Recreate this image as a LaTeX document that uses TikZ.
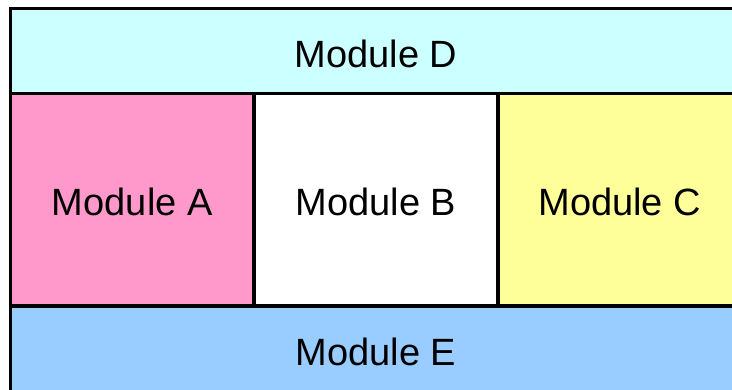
\documentclass[tikz,border=0pt]{standalone}
\usepackage{fontspec}
\setmainfont{Liberation Sans}
\begin{document}
\begin{tikzpicture}[x=1pt,y=-1pt,
  module/.style={draw=black, line width=3.5pt, rectangle, inner sep=0pt, outer sep=0pt,
    font=\fontsize{38}{40}\selectfont, text height=32pt, text depth=0pt},
  fullrow/.style={module, minimum width=731pt, minimum height=85pt},
  cell/.style={module, minimum width=243.7pt, minimum height=212.5pt}]
  \definecolor{modD}{HTML}{CCFFFF}
  \definecolor{modA}{HTML}{FF99CC}
  \definecolor{modC}{HTML}{FFFF99}
  \definecolor{modE}{HTML}{99CCFF}
  \useasboundingbox (0,0) rectangle (732,389);
  \begin{scope}
    \clip (0,0) rectangle (732,389);
    \node[fullrow, fill=modD] (D) at (376,51) {Module D};
    \node[cell, fill=modA] (A) at (132.25,199.75) {Module A};
    \node[cell, fill=white] (B) at (376,199.75) {Module B};
    \node[cell, fill=modC] (C) at (619.75,199.75) {Module C};
    % bottom row runs past the lower edge of the page
    \node[fullrow, fill=modE, minimum height=91pt, text height=27pt] (E) at (376,351.5) {Module E};
  \end{scope}
\end{tikzpicture}
\end{document}
